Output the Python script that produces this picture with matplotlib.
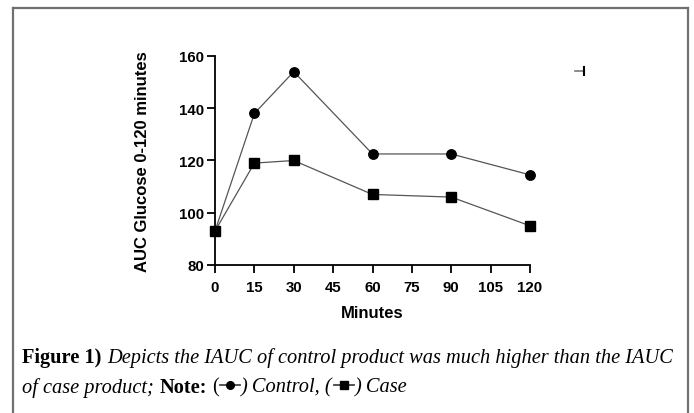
import matplotlib
matplotlib.use("Agg")
import matplotlib.pyplot as plt
from matplotlib.lines import Line2D
from matplotlib.offsetbox import TextArea, DrawingArea, HPacker, VPacker, AnchoredOffsetbox

# data
minutes = [0, 15, 30, 60, 90, 120]
control = [93, 138, 154, 122.5, 122.5, 114.5]
case = [93, 119, 120, 107, 106, 95]
xticks = [0, 15, 30, 45, 60, 75, 90, 105, 120]
yticks = [80, 100, 120, 140, 160]

plt.rcParams['font.family'] = ['Liberation Sans', 'DejaVu Sans']

fig = plt.figure(figsize=(6.94, 4.14), dpi=100)
ax = fig.add_axes([215/694, 1-266/414, 315/694, 209/414])

# lines
ax.plot(minutes, control, color='#555555', lw=0.9, marker='o', ms=6.8,
        mfc='black', mec='black', clip_on=False, zorder=3)
ax.plot(minutes, case, color='#555555', lw=0.9, marker='s', ms=6.5,
        mfc='black', mec='black', clip_on=False, zorder=3)

ax.set_xlim(0, 120)
ax.set_ylim(80, 160)
ax.set_xticks(xticks)
ax.set_yticks(yticks)
for s in ['top', 'right']:
    ax.spines[s].set_visible(False)
for s in ['left', 'bottom']:
    ax.spines[s].set_linewidth(1.3)
ax.tick_params(width=1.3, length=6, labelsize=10.8)
ax.tick_params(axis='x', pad=5)
ax.tick_params(axis='y', pad=2)
for lab in ax.get_xticklabels() + ax.get_yticklabels():
    lab.set_fontweight('bold')
ax.set_xlabel('Minutes', fontsize=12, fontweight='bold', labelpad=8)
ax.set_ylabel('AUC Glucose 0-120 minutes', fontsize=12, fontweight='bold', labelpad=21)

# cut-off legend glyph at top right
fig.add_artist(Line2D([575/694, 584/694], [1-72/414, 1-72/414],
                      transform=fig.transFigure, color='#777777', lw=1.2))
fig.add_artist(Line2D([584/694, 584/694], [1-68/414, 1-76/414],
                      transform=fig.transFigure, color='black', lw=1.5))

# outer frame (no bottom)
fr = dict(transform=fig.transFigure, color='#707070', lw=1.6)
fig.add_artist(Line2D([12.5/694, 12.5/694], [0, 1-8.5/414], **fr))
fig.add_artist(Line2D([12.5/694, 688/694], [1-8.5/414, 1-8.5/414], **fr))
fig.add_artist(Line2D([688/694, 688/694], [1-8.5/414, 0], **fr))

# caption
serif = ['Liberation Serif', 'DejaVu Serif']
fs = 14.7
bold = dict(family=serif, size=fs, weight='bold')
ital = dict(family=serif, size=fs, style='italic')
reg = dict(family=serif, size=fs)


def key(marker):
    da = DrawingArea(16, 10, 0, 0)
    da.add_artist(Line2D([1, 15], [4.5, 4.5], color='#444444', lw=1.3))
    da.add_artist(Line2D([8], [4.5], marker=marker, ms=5.5, color='black', lw=0))
    return da


line1 = HPacker(children=[TextArea('Figure 1)', textprops=bold),
                          TextArea('Depicts the IAUC of control product was much higher than the IAUC',
                                   textprops=ital)],
                align='baseline', pad=0, sep=4)
legend_part = HPacker(children=[TextArea('(', textprops=reg),
                                key('o'),
                                TextArea(') Control, (', textprops=ital),
                                key('s'),
                                TextArea(') Case', textprops=ital)],
                      align='baseline', pad=0, sep=0)
line2 = HPacker(children=[TextArea('of case product;', textprops=ital),
                          TextArea('Note:', textprops=bold),
                          legend_part],
                align='baseline', pad=0, sep=4)
cap = VPacker(children=[line1, line2], align='left', pad=0, sep=7)
ab = AnchoredOffsetbox(loc='upper left', child=cap, pad=0, borderpad=0, frameon=False,
                       bbox_to_anchor=(22/694, 1-348/414), bbox_transform=fig.transFigure)
fig.add_artist(ab)

fig.savefig('out.png', dpi=100)
